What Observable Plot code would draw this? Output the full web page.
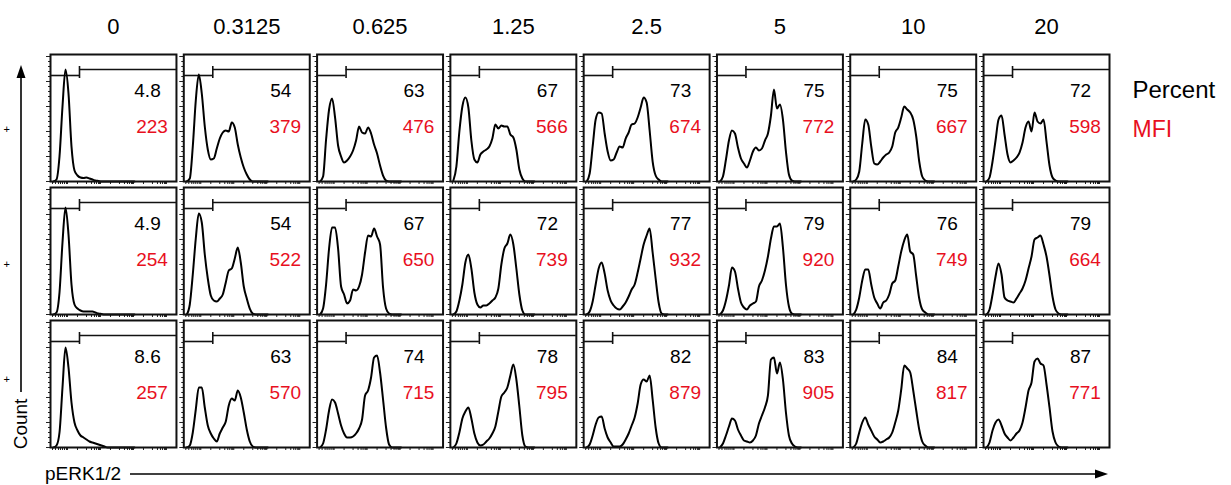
<!DOCTYPE html>
<html><head><meta charset="utf-8">
<script src="https://cdn.jsdelivr.net/npm/d3@7"></script>
<script src="https://cdn.jsdelivr.net/npm/@observablehq/plot@0.6"></script>
<style>html,body{margin:0;padding:0;background:#fff}#chart svg{display:block}</style>
</head><body><div id="chart"></div>
<script>
// Column headers (dose) and rows
const doses = ["0", "0.3125", "0.625", "1.25", "2.5", "5", "10", "20"];
const rows = ["row1", "row2", "row3"];
const rowMarks = ["+", "+", "+"];

// Gate statistics per panel
const percentRow1 = [4.8, 54, 63, 67, 73, 75, 75, 72];
const percentRow2 = [4.9, 54, 67, 72, 77, 79, 76, 79];
const percentRow3 = [8.6, 63, 74, 78, 82, 83, 84, 87];
const mfiRow1 = [223, 379, 476, 566, 674, 772, 667, 598];
const mfiRow2 = [254, 522, 650, 739, 932, 920, 749, 664];
const mfiRow3 = [257, 570, 715, 795, 879, 905, 817, 771];

// Histogram bins (channel) and counts
const bins = [3,6,9,12,15,18,21,24,27,30,33,36,39,42,45,48,51,54,57,60,63,66,69,72,75,78,81,84];
const histRow1 = [
  [0,2,25,75,112,88,35,11,6,4,3.5,4,3,2,1,0.5,0,0,0,0,0,0,0,0,0,0,0,0],
  [0,3,35,81,107,88,55,32,22,23,33,43,49,51,50,59,54,37,24,14,7,2,0,0,0,0,0,0],
  [0,5,42,72,83,64,36,25,19,21,25,31,41,55,49,48,54,48,37,28,16,6,1,0,0,0,0,0],
  [1,15,50,75,84,74,41,22,19,27,30,32,35,43,57,53,56,55,55,47,44,32,12,3,0,0,0,0],
  [0,8,35,62,69,68,48,30,21,22,29,35,34,43,49,57,58,64,74,84,79,51,20,6,2,0,0,0],
  [0,5,22,41,51,48,34,23,18,14,21,30,34,31,33,41,48,66,92,73,77,62,30,7,1,0,0,0],
  [0,2,10,38,62,57,35,18,17,20,24,27,29,35,49,54,64,75,72,69,62,45,20,5,1,0,0,0],
  [0,4,20,41,62,66,47,27,19,21,24,29,39,54,60,50,69,60,58,62,40,16,4,1,0,0,0,0]
];
const histRow2 = [
  [0,2,22,72,107,80,30,10,6,4,3,3,3,3,2,1,0.5,0,0,0,0,0,0,0,0,0,0,0],
  [0,10,40,76,101,92,60,36,19,14,13,16,20,32,44,46,56,67,52,28,16,6,1,0,0,0,0,0],
  [0,6,30,66,87,87,66,28,20,11,14,25,24,28,40,62,79,78,86,78,70,27,6,1,0,0,0,0],
  [0,3,14,30,52,60,46,22,10,7,9,9,11,14,17,26,50,66,71,80,70,46,20,4,0,0,0,0],
  [0,3,13,30,46,52,41,24,14,9,6,5,8,12,18,25,30,42,56,70,79,86,62,36,12,1,0,0],
  [0,4,14,29,47,43,26,12,7,5,9,11,13,28,34,44,58,76,88,88,91,67,30,8,1,0,0,0],
  [0,5,17,34,45,45,30,17,11,6,12,14,20,31,34,48,63,74,80,63,60,38,16,5,2,0,0,0],
  [0,5,20,38,51,40,17,14,13,12,16,21,26,34,46,58,75,77,79,70,58,39,18,5,1,0,0,0]
];
const histRow3 = [
  [0,2,15,60,100,80,45,25,17,12,10,8,6,5,4,3,2,1,0,0,0,0,0,0,0,0,0,0],
  [0,2,15,38,60,60,40,22,14,9,6,14,20,26,42,49,47,57,50,35,18,6,1,0,0,0,0,0],
  [0,4,18,37,48,45,34,22,14,10,10,11,14,19,28,52,57,70,90,92,75,48,20,3,0,0,0,0],
  [0,4,15,29,36,40,29,14,5,2,3,6,9,14,21,36,51,55,60,72,83,68,41,12,1,0,0,0],
  [0,3,12,23,30,31,19,10,5,1,1,1,3,8,14,22,30,44,63,68,66,72,48,20,4,0,0,0],
  [0,4,12,21,29,27,18,12,7,6,5,7,12,24,32,40,52,88,90,74,85,68,35,12,4,1,0,0],
  [0,4,15,25,30,23,17,11,8,5,6,8,10,15,25,37,58,82,79,75,57,37,18,6,2,0,0,0],
  [0,5,17,25,28,22,14,10,7,10,14,17,25,40,57,65,86,89,84,82,63,40,16,5,1,0,0,0]
];

// Gate (channel threshold) and axis tick values
const gateChannel = 29;
const gateLevelLow = 106;
const gateLevelHigh = 112;
const channelTicks = [2,5,8,10,12,14,16,17,27,36,41,44,46,48,49,50,60,69,74,77,79,81,82,83,93,102,107,110,112,114,115,116];
const countTicksMajor = [0,25,50,75,100,125];
const countTicksMinor = [5,10,15,20,30,35,40,45,55,60,65,70,80,85,90,95,105,110,115,120];

(function () {
const percents = [percentRow1, percentRow2, percentRow3];
const mfis = [mfiRow1, mfiRow2, mfiRow3];
const hists = [histRow1, histRow2, histRow3];

const panels = rows.flatMap((r, i) => doses.map((d, j) => ({row: r, dose: d, pct: percents[i][j], mfi: mfis[i][j]})));
const points = rows.flatMap((r, i) => doses.flatMap((d, j) => bins.map((b, k) => ({row: r, dose: d, channel: b, count: hists[i][j][k]}))));

const RED = "#e8101e";
const FONT = "'Liberation Sans', Arial, Helvetica, sans-serif";

const chart = Plot.plot({
  width: 1231,
  height: 485,
  marginLeft: 50,
  marginRight: 122,
  marginTop: 54,
  marginBottom: 38,
  style: {fontFamily: FONT, background: "white", overflow: "visible"},
  fx: {domain: doses, paddingInner: 0.055, paddingOuter: 0, axis: null, round: false},
  fy: {domain: rows, paddingInner: 0.045, paddingOuter: 0, axis: null, round: false},
  x: {domain: [0, 126], axis: null},
  y: {domain: [0, 127], axis: null},
  marks: [
    Plot.ruleX(channelTicks, {x: d => d, y1: 0, y2: -3, stroke: "#222", strokeWidth: 1}),
    Plot.ruleY(countTicksMajor, {y: d => d, x1: 0, x2: -4, stroke: "#222", strokeWidth: 1}),
    Plot.ruleY(countTicksMinor, {y: d => d, x1: 0, x2: -2, stroke: "#222", strokeWidth: 1}),
    Plot.ruleY([gateLevelLow], {x1: 0, x2: gateChannel, stroke: "#111", strokeWidth: 1.6}),
    Plot.ruleY([gateLevelHigh], {x1: gateChannel, x2: 126, stroke: "#111", strokeWidth: 1.6}),
    Plot.ruleX([gateChannel], {y1: gateLevelLow - 3, y2: gateLevelHigh + 3, stroke: "#111", strokeWidth: 1.6}),
    Plot.line(points, {fx: "dose", fy: "row", x: "channel", y: "count", curve: "monotone-x", stroke: "black", strokeWidth: 2}),
    Plot.frame({stroke: "#111", strokeWidth: 2}),
    Plot.text(panels, {fx: "dose", fy: "row", text: d => String(d.pct), frameAnchor: "top-left", dx: 97, dy: 36, textAnchor: "middle", lineAnchor: "middle", fontSize: 19, fill: "black"}),
    Plot.text(panels, {fx: "dose", fy: "row", text: d => String(d.mfi), frameAnchor: "top-left", dx: 101.5, dy: 72, textAnchor: "middle", lineAnchor: "middle", fontSize: 19, fill: RED}),
    Plot.text(doses, {fx: d => d, fy: () => rows[0], text: d => d, frameAnchor: "top", dy: -28, lineAnchor: "middle", fontSize: 22, fill: "black"}),
    Plot.text(["Percent"], {fx: () => doses[7], fy: () => rows[0], text: d => d, frameAnchor: "top-right", dx: 23, dy: 36, textAnchor: "start", lineAnchor: "middle", fontSize: 24, fill: "black"}),
    Plot.text(["MFI"], {fx: () => doses[7], fy: () => rows[0], text: d => d, frameAnchor: "top-right", dx: 23, dy: 75, textAnchor: "start", lineAnchor: "middle", fontSize: 23, fill: RED}),
    Plot.text([rows[0]], {fx: () => doses[0], fy: d => d, text: () => rowMarks[0], frameAnchor: "top-left", dx: -47, dy: 75, lineAnchor: "middle", fontSize: 11, fill: "black"}),
    Plot.text([rows[1]], {fx: () => doses[0], fy: d => d, text: () => rowMarks[1], frameAnchor: "top-left", dx: -47, dy: 77, lineAnchor: "middle", fontSize: 11, fill: "black"}),
    Plot.text([rows[2]], {fx: () => doses[0], fy: d => d, text: () => rowMarks[2], frameAnchor: "top-left", dx: -47, dy: 59, lineAnchor: "middle", fontSize: 11, fill: "black"})
  ]
});

document.getElementById("chart").appendChild(chart);

// Axis titles with arrows, positioned from the facet scales
const fxS = chart.scale("fx"), fyS = chart.scale("fy");
const fLeft = fxS.range[0], fRight = fxS.range[1];
const fTop = fyS.range[0], fBottom = fyS.range[1];
const svg = d3.select(chart);
const g = svg.append("g").attr("fill", "black").attr("stroke", "black").attr("text-anchor", "start");
const ax = fLeft - 29;
g.append("line").attr("x1", ax).attr("x2", ax).attr("y1", fBottom - 55).attr("y2", fTop + 20).attr("stroke-width", 1.6);
g.append("path").attr("d", `M${ax},${fTop + 11}L${ax - 4.5},${fTop + 24}L${ax + 4.5},${fTop + 24}Z`).attr("stroke", "none");
const ay = fBottom + 27;
g.append("line").attr("x1", fLeft + 80).attr("x2", fRight - 10).attr("y1", ay).attr("y2", ay).attr("stroke-width", 1.6);
g.append("path").attr("d", `M${fRight - 1},${ay}L${fRight - 14},${ay - 4.5}L${fRight - 14},${ay + 4.5}Z`).attr("stroke", "none");
g.append("text").text("Count").attr("stroke", "none").attr("font-family", FONT).attr("font-size", 19)
  .attr("text-anchor", "middle").attr("transform", `translate(${fLeft - 23},${fBottom - 23}) rotate(-90)`);
g.append("text").text("pERK1/2").attr("stroke", "none").attr("font-family", FONT).attr("font-size", 19)
  .attr("text-anchor", "start").attr("x", fLeft - 5).attr("y", fBottom + 33);
})();
</script>
</body></html>
